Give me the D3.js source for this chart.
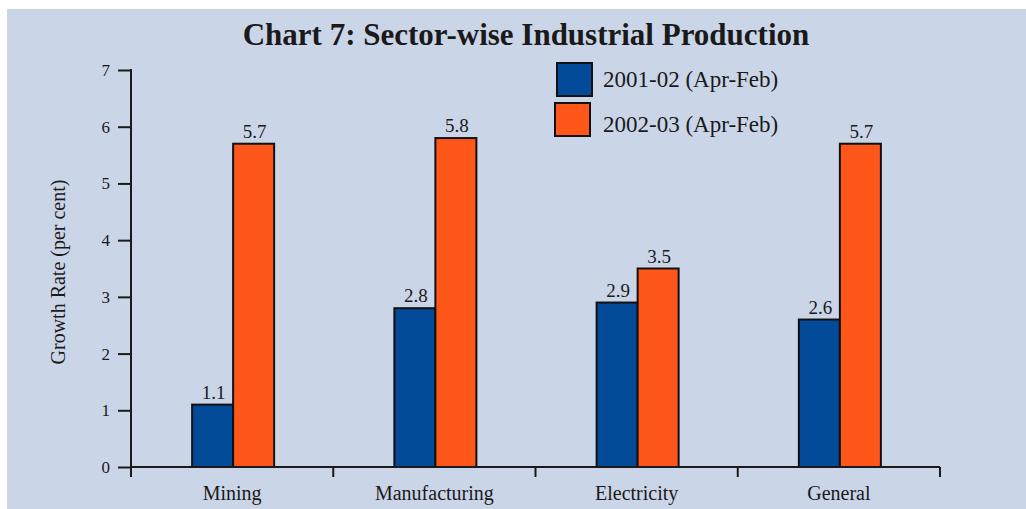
<!DOCTYPE html>
<html>
<head>
<meta charset="utf-8">
<script src="https://cdn.jsdelivr.net/npm/d3@7"></script>
<style>
  html, body { margin: 0; padding: 0; background: #ffffff; }
  svg { display: block; }
  text { font-family: "Liberation Serif", "DejaVu Serif", serif; fill: #1a1a1a; }
</style>
</head>
<body>
<svg id="chart" width="1026" height="509"></svg>
<script>
// Growth rates by sector, two periods
const categories = ["Mining", "Manufacturing", "Electricity", "General"];
const seriesNames = ["2001-02 (Apr-Feb)", "2002-03 (Apr-Feb)"];
const values2001 = [1.1, 2.8, 2.9, 2.6];
const values2002 = [5.7, 5.8, 3.5, 5.7];
const yTicks = [0, 1, 2, 3, 4, 5, 6, 7];

const colors = ["#034a98", "#ff5619"];
const svg = d3.select("#chart");

// panel background
svg.append("rect")
  .attr("x", 7).attr("y", 9)
  .attr("width", 1019).attr("height", 500)
  .attr("fill", "#cbd5e8");

const plotLeft = 131, plotRight = 940, plotTop = 70, plotBottom = 467;

const x = d3.scaleBand().domain(categories).range([plotLeft, plotRight]).padding(0);
const groupWidth = 82;
const xSub = d3.scaleBand().domain(seriesNames).range([0, groupWidth]).padding(0);
const y = d3.scaleLinear().domain([0, 7]).range([plotBottom, plotTop]);

// title
svg.append("text")
  .attr("x", 526).attr("y", 45)
  .attr("text-anchor", "middle")
  .style("font-weight", "bold")
  .style("font-size", "31px")
  .text("Chart 7: Sector-wise Industrial Production");

// bars
const rows = categories.map((c, i) => ({ cat: c, vals: [values2001[i], values2002[i]] }));
const groups = svg.append("g").selectAll("g")
  .data(rows).join("g")
  .attr("transform", d => `translate(${x(d.cat) + x.bandwidth() / 2 - groupWidth / 2 + 1},0)`);

groups.selectAll("rect")
  .data(d => d.vals.map((v, j) => ({ v, s: seriesNames[j], j })))
  .join("rect")
  .attr("x", d => xSub(d.s))
  .attr("y", d => y(d.v))
  .attr("width", xSub.bandwidth())
  .attr("height", d => y(0) - y(d.v))
  .attr("fill", d => colors[d.j])
  .attr("stroke", "#111")
  .attr("stroke-width", 2);

groups.selectAll("text.val")
  .data(d => d.vals.map((v, j) => ({ v, s: seriesNames[j], j })))
  .join("text")
  .attr("class", "val")
  .attr("x", d => xSub(d.s) + xSub.bandwidth() / 2 + 1)
  .attr("y", d => y(d.v) - 6)
  .attr("text-anchor", "middle")
  .style("font-size", "19px")
  .text(d => d.v.toFixed(1));

// y axis
const yAxis = d3.axisLeft(y).tickValues(yTicks).tickSize(13).tickPadding(8).tickFormat(d3.format("d"));
const gy = svg.append("g").attr("transform", `translate(${plotLeft},0)`).call(yAxis);
gy.select(".domain").remove();
gy.selectAll(".tick line").attr("stroke", "#1a1a1a").attr("stroke-width", 2);
gy.selectAll(".tick text").style("font-size", "17px").attr("fill", "#1a1a1a");
gy.append("line").attr("x1", 0).attr("x2", 0).attr("y1", plotTop - 1).attr("y2", plotBottom + 10)
  .attr("stroke", "#1a1a1a").attr("stroke-width", 2);

// x axis
const xAxis = d3.axisBottom(x).tickSize(0).tickPadding(19);
const gx = svg.append("g").attr("transform", `translate(0,${plotBottom})`).call(xAxis);
gx.select(".domain").remove();
gx.selectAll(".tick text").style("font-size", "20px").attr("fill", "#1a1a1a");
gx.append("line").attr("x1", plotLeft).attr("x2", plotRight).attr("y1", 0).attr("y2", 0)
  .attr("stroke", "#1a1a1a").attr("stroke-width", 2);
// separators between categories
const bounds = categories.slice(1).map(c => x(c)).concat([plotRight]);
gx.selectAll("line.sep").data(bounds).join("line")
  .attr("class", "sep")
  .attr("x1", d => d).attr("x2", d => d)
  .attr("y1", 0).attr("y2", 10)
  .attr("stroke", "#1a1a1a").attr("stroke-width", 2);

// y axis title
svg.append("text")
  .attr("transform", "translate(65,272) rotate(-90)")
  .attr("text-anchor", "middle")
  .style("font-size", "20px")
  .text("Growth Rate (per cent)");

// legend
const legend = svg.append("g").selectAll("g")
  .data(seriesNames).join("g");
legend.append("rect")
  .attr("x", (d, i) => 557 - i * 2)
  .attr("y", (d, i) => 63 + i * 40)
  .attr("width", 35).attr("height", 33)
  .attr("fill", (d, i) => colors[i])
  .attr("stroke", "#111").attr("stroke-width", 2);
legend.append("text")
  .attr("x", 603).attr("y", (d, i) => 87 + i * 45)
  .style("font-size", "23px")
  .text(d => d);
</script>
</body>
</html>
